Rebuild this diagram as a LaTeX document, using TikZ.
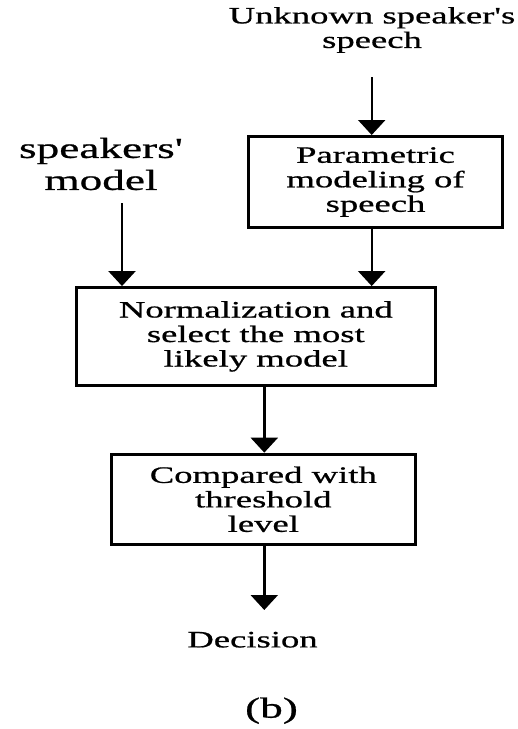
\documentclass[tikz,border=0pt]{standalone}
\usepackage{fontspec}
\newfontfamily\diagfont[FakeStretch=1.56,FakeBold=0.8]{Liberation Serif}
\usetikzlibrary{arrows.meta}
\begin{document}
\begin{tikzpicture}[x=1pt,y=-1pt,
  box/.style={draw, line width=3pt, inner sep=0pt, align=center, font=\diagfont\fontsize{23.5}{24.5}\selectfont},
  lbl/.style={inner sep=0pt, align=center, font=\diagfont\fontsize{23.5}{24.5}\selectfont},
  big/.style={inner sep=0pt, align=center, font=\diagfont\fontsize{29}{32}\selectfont},
  arr/.style={line width=2.4pt, -{Triangle[width=27pt,length=15pt]}}]
\useasboundingbox (0,0) rectangle (518,729);
% labels
\node[lbl] (unk) at (372,30) {Unknown speaker's\\speech};
\node[big] (spk) at (101,164) {speakers'\\model};
% boxes
\node[box, minimum width=254pt, minimum height=91pt] (b1) at (375.5,182) {Parametric\\modeling of\\speech};
\node[box, minimum width=358.7pt, minimum height=97.7pt] (b2) at (255.8,336.4) {Normalization and\\select the most\\likely model};
\node[box, minimum width=303.7pt, minimum height=90.3pt] (b3) at (263.3,499.3) {Compared with\\threshold\\level};
\node[lbl] (dec) at (252.5,639.7) {Decision};
\node[big] (cap) at (271.5,710.7) {(b)};
% connector ends
\coordinate (u1) at (371.7,77);
\coordinate (s1) at (122,203);
\coordinate (m1) at (264.3,0);
\coordinate (d1) at (264.3,610);
% arrows
\draw[arr] (u1) -- (u1 |- b1.north);
\draw[arr] (s1) -- (s1 |- b2.north);
\draw[arr] (u1 |- b1.south) -- (u1 |- b2.north);
\draw[arr] (m1 |- b2.south) -- (m1 |- b3.north);
\draw[arr] (m1 |- b3.south) -- (d1);
\end{tikzpicture}
\end{document}
